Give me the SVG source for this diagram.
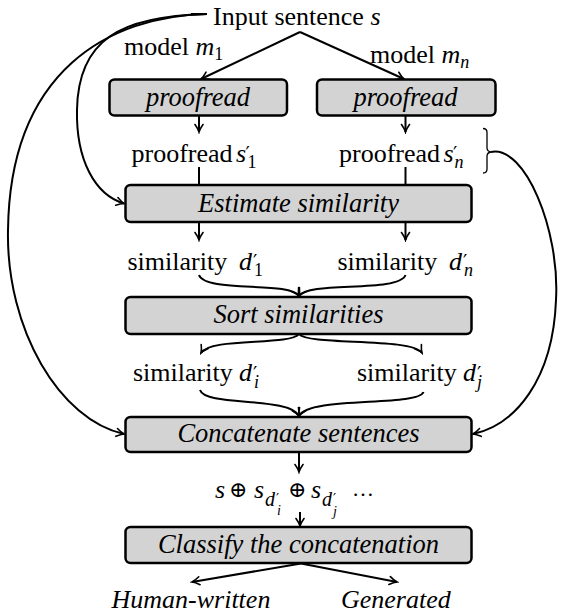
<svg xmlns="http://www.w3.org/2000/svg" width="564" height="614" viewBox="0 0 564 614">
<defs>
<marker id="ah" viewBox="-9 -6 11 12" refX="0" refY="0" markerWidth="11" markerHeight="12" markerUnits="userSpaceOnUse" orient="auto">
<path d="M-7.5,-4 Q-3,-0.8 0,0 Q-3,0.8 -7.5,4" fill="none" stroke="#000" stroke-width="1.6" stroke-linecap="round"/>
</marker>
<style>
.box{fill:#d3d3d3;stroke:#000;stroke-width:2.5}
.t{font-family:"Liberation Serif","Times New Roman",serif;font-size:26px;fill:#000}
.bt{font-family:"Liberation Serif","Times New Roman",serif;font-size:26.5px;font-style:italic;fill:#000;text-anchor:middle}
.it{font-style:italic}
.sub{font-size:18px}
.pr{font-family:"DejaVu Sans",sans-serif;font-size:19px;font-style:normal}
.ps{font-family:"DejaVu Sans",sans-serif;font-size:14px;font-style:normal}
.op{font-family:"DejaVu Serif","Liberation Serif",serif;font-size:22px;font-style:normal}
.e{fill:none;stroke:#000;stroke-width:2}
.a{marker-end:url(#ah)}
.br{fill:none;stroke:#000;stroke-width:1.3}
</style>
</defs>

<g id="connectors">
<path class="e a" d="M300,32 L201,79"/>
<path class="e a" d="M300,32 L404,79"/>
<path class="e" d="M191,14 L207,14"/>
<path class="e a" d="M207,14 C120,16 78,40 77,110 C76,160 95,195 124,203.5"/>
<path class="e a" d="M207,14 C110,16 10,70 8,230 C6,330 60,420 124,434"/>
<path class="e a" d="M199,116 L199,132"/>
<path class="e a" d="M405.5,116 L405.5,132"/>
<path class="e" d="M199,167 L199,185"/>
<path class="e" d="M405.5,167 L405.5,185"/>
<path class="br" d="M483,128.5 Q487,128.5 487,132.5 L487,147.5 Q487,151.5 491,152 Q487,152.5 487,156.5 L487,169 Q487,173 483,173"/>
<path class="e a" d="M491,152 C525,145 560,230 556,300 C553,380 515,425 473,434"/>
<path class="e a" d="M199,222 L199,240"/>
<path class="e a" d="M405.5,222 L405.5,240"/>
<path class="e a" d="M199,275 C205,293 290,281 299,296"/>
<path class="e a" d="M405.5,275 C399,293 308,281 299,296"/>
<path class="e a" d="M299,334 C290,346 210,337 201,353"/>
<path class="e a" d="M299,334 C308,346 412,337 422,353"/>
<path class="e a" d="M200,390 C205,407 290,396 299,416"/>
<path class="e a" d="M423.5,392 C418,407 308,396 299,416"/>
<path class="e a" d="M299,452 L299,472"/>
<path class="e a" d="M300,512 L300,526"/>
<path class="e a" d="M301,563.5 L192,582"/>
<path class="e a" d="M301,563.5 L397,582"/>
</g>

<g id="input">
<text class="t" x="213" y="25">Input sentence <tspan class="it">s</tspan></text>
</g>
<g id="model1">
<text class="t" x="124" y="55">model <tspan class="it">m</tspan><tspan class="sub" dy="5">1</tspan></text>
</g>
<g id="modeln">
<text class="t" x="370" y="62.5">model <tspan class="it">m</tspan><tspan class="sub it" dy="5">n</tspan></text>
</g>

<g id="proofread1">
<rect class="box" x="109.5" y="79.5" width="177.5" height="36" rx="5"/>
<text class="bt" x="198" y="105.7">proofread</text>
</g>
<g id="proofreadn">
<rect class="box" x="317" y="79.5" width="178.5" height="36" rx="5"/>
<text class="bt" x="405.5" y="105.7">proofread</text>
</g>

<g id="s1">
<text class="t" x="131.5" y="161.5">proofread<tspan class="it" x="236">s</tspan><tspan class="pr" x="245.5" y="160">′</tspan><tspan class="sub" x="247.5" y="168">1</tspan></text>
</g>
<g id="sn">
<text class="t" x="339" y="161.5">proofread<tspan class="it" x="443.5">s</tspan><tspan class="pr" x="453" y="160">′</tspan><tspan class="sub it" x="454.5" y="168">n</tspan></text>
</g>

<g id="estimate">
<rect class="box" x="125.5" y="185" width="346" height="37" rx="5"/>
<text class="bt" x="298.5" y="211.7">Estimate similarity</text>
</g>

<g id="d1">
<text class="t" x="127.5" y="269.5">similarity<tspan class="it" x="239">d</tspan><tspan class="pr" x="253" y="268">′</tspan><tspan class="sub" x="254" y="276">1</tspan></text>
</g>
<g id="dn">
<text class="t" x="337.5" y="269.5">similarity<tspan class="it" x="449">d</tspan><tspan class="pr" x="463" y="268">′</tspan><tspan class="sub it" x="464" y="276">n</tspan></text>
</g>

<g id="sort">
<rect class="box" x="125.5" y="297" width="346" height="37" rx="5"/>
<text class="bt" x="298.5" y="323.3">Sort similarities</text>
</g>

<g id="di">
<text class="t" x="133" y="381">similarity<tspan class="it" x="239">d</tspan><tspan class="pr" x="253" y="380">′</tspan><tspan class="sub it" x="254" y="388">i</tspan></text>
</g>
<g id="dj">
<text class="t" x="357" y="381">similarity<tspan class="it" x="463">d</tspan><tspan class="pr" x="477" y="380">′</tspan><tspan class="sub it" x="477" y="388">j</tspan></text>
</g>

<g id="concatenate">
<rect class="box" x="125.5" y="417" width="346" height="35" rx="5"/>
<text class="bt" x="298.5" y="441.7">Concatenate sentences</text>
</g>

<g id="expression">
<text class="t" y="498"><tspan class="it" x="215">s</tspan><tspan class="op" x="229" y="497">⊕</tspan><tspan class="it" x="254" y="498">s</tspan><tspan class="it" x="265" y="506" style="font-size:20px">d</tspan><tspan class="ps" x="276" y="503">′</tspan><tspan class="it" x="277" y="515" style="font-size:14px">i</tspan><tspan class="op" x="288" y="497">⊕</tspan><tspan class="it" x="311" y="498">s</tspan><tspan class="it" x="322" y="506" style="font-size:20px">d</tspan><tspan class="ps" x="333" y="503">′</tspan><tspan class="it" x="333" y="516" style="font-size:14px">j</tspan><tspan x="352" y="496" style="font-size:22px">…</tspan></text>
</g>

<g id="classify">
<rect class="box" x="125.5" y="527" width="346" height="36" rx="5"/>
<text class="bt" x="298.5" y="553.3">Classify the concatenation</text>
</g>

<g id="human">
<text class="t it" x="111.5" y="608">Human-written</text>
</g>
<g id="generated">
<text class="t it" x="341" y="608">Generated</text>
</g>
</svg>
